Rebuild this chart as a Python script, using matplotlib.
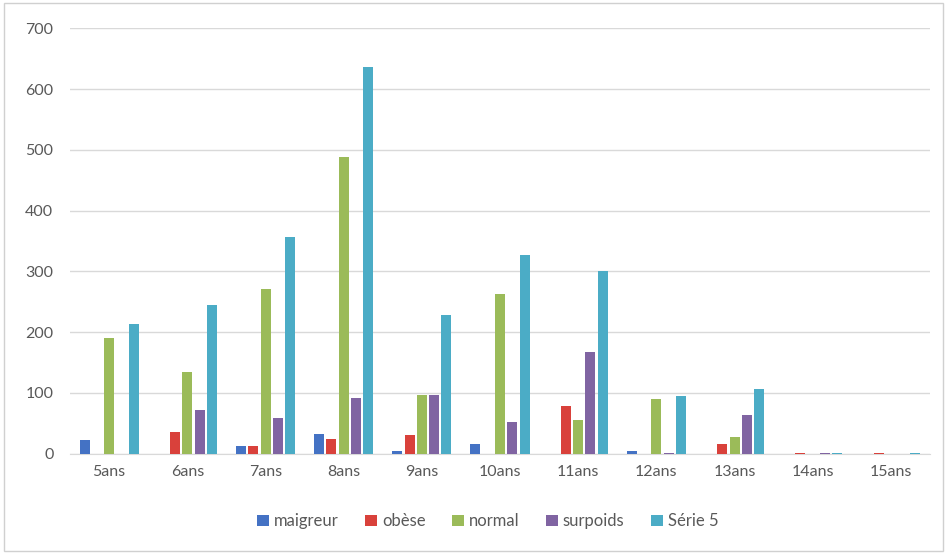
import matplotlib

matplotlib.use('Agg')

import matplotlib.pyplot as plt
import numpy as np
from matplotlib.patches import Rectangle

plt.rcParams['font.family'] = ['Lato', 'DejaVu Sans']

AGES = ['5ans', '6ans', '7ans', '8ans', '9ans', '10ans',
        '11ans', '12ans', '13ans', '14ans', '15ans']

MAIGREUR = [22, 0, 13, 33, 5, 16, 0, 4, 0, 0, 0]
OBESE = [0, 36, 13, 24, 30, 0, 78, 0, 16, 2, 2]
NORMAL = [190, 135, 271, 488, 96, 262, 55, 90, 27, 0, 0]
SURPOIDS = [0, 72, 58, 91, 96, 52, 167, 2, 64, 2, 0]
SERIE5 = [213, 245, 357, 637, 228, 327, 301, 95, 106, 2, 2]

SERIES = [
    ('maigreur', MAIGREUR, '#4472C4'),
    ('obèse', OBESE, '#D9413B'),
    ('normal', NORMAL, '#9BBB59'),
    ('surpoids', SURPOIDS, '#8064A2'),
    ('Série 5', SERIE5, '#4BACC6'),
]

TEXT_COLOR = '#595959'


def main():
    fig = plt.figure(figsize=(9.47, 5.54), dpi=100)
    ax = fig.add_axes([0.074, 0.181, 0.908, 0.768])

    x = np.arange(len(AGES))
    slot = 0.157
    bar_w = 0.128
    for i, (name, values, color) in enumerate(SERIES):
        offset = (i - 2) * slot
        ax.bar(x + offset, values, width=bar_w, color=color, label=name,
               zorder=3)

    ax.set_xlim(-0.5, len(AGES) - 0.5)
    ax.set_ylim(0, 700)
    ax.set_yticks(range(0, 701, 100))
    ax.set_xticks(x)
    ax.set_xticklabels(AGES)
    ax.tick_params(axis='both', length=0, labelsize=11.5,
                   labelcolor=TEXT_COLOR)
    ax.tick_params(axis='y', pad=12)
    ax.tick_params(axis='x', pad=8)
    ax.grid(axis='y', color='#D9D9D9', linewidth=1, zorder=0)
    for side in ['top', 'right', 'left']:
        ax.spines[side].set_visible(False)
    ax.spines['bottom'].set_color('#D9D9D9')

    fig.legend(loc='center', bbox_to_anchor=(0.515, 0.059), ncol=5,
               frameon=False, fontsize=12, handlelength=0.7,
               handleheight=0.7, handletextpad=0.3, columnspacing=1.6,
               labelcolor=TEXT_COLOR)

    fig.patches.append(Rectangle((0.004, 0.005), 0.992, 0.99,
                                 transform=fig.transFigure, fill=False,
                                 edgecolor='#D0D0D0', linewidth=1))

    fig.savefig('out.png', dpi=100)
    plt.close(fig)


if __name__ == '__main__':
    main()
